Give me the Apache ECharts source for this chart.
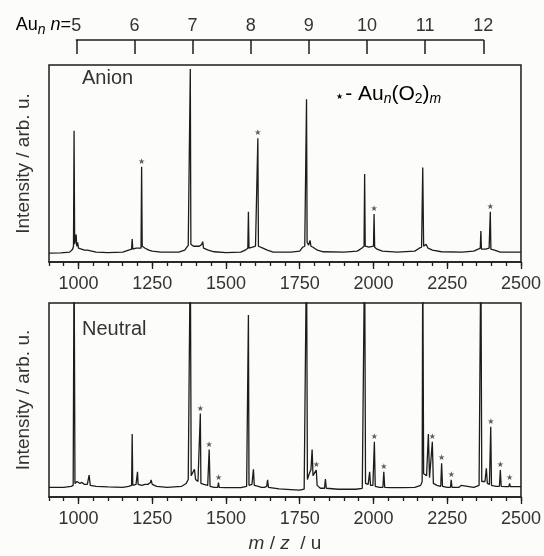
<!DOCTYPE html>
<html style="height:100%">
<head>
    <meta charset="utf-8">
    <title>Au_n mass spectra</title>
    <script src="https://cdn.jsdelivr.net/npm/echarts/dist/echarts.min.js"></script>
</head>
<body style="height:100%;margin:0;background:#fcfcfa">
    <div id="main" style="width:544px;height:556px;"></div>
    <script type="text/javascript">
        // m/z tick labels (bottom axes) and cluster sizes (top axis)
        var mzTicks = [1000, 1250, 1500, 1750, 2000, 2250, 2500];
        var clusterN = [5, 6, 7, 8, 9, 10, 11, 12];
        var clusterMz = [985, 1182, 1379, 1576, 1773, 1970, 2167, 2364];

        // anion spectrum trace [m/z, intensity]  (100 = top of frame)
        var anionTrace = [
            [900, 4.5], [940, 4.6], [970, 5.0], [980, 6.5], [983, 8], [985, 66.6], [987, 9], [990, 8], [992, 14], [994, 8],
            [997, 10], [1000, 7], [1005, 8], [1010, 6.5], [1020, 6], [1030, 6], [1045, 5.5], [1060, 5], [1100, 4.8],
            [1150, 5], [1170, 6], [1180, 6.5], [1182, 11.7], [1184, 6.5], [1195, 7], [1205, 7], [1210, 7.5], [1212, 7],
            [1214, 48.4], [1216, 8], [1222, 9], [1226, 7], [1232, 8], [1238, 6], [1250, 5.5], [1280, 5], [1340, 5],
            [1360, 6], [1372, 8.5], [1377, 9], [1379, 98], [1381, 9], [1390, 8], [1400, 8], [1410, 8], [1418, 9],
            [1421, 10.3], [1424, 7], [1440, 6], [1460, 5.2], [1500, 4.8], [1550, 5], [1565, 6], [1574, 7], [1576, 25.5],
            [1578, 7], [1590, 7.5], [1600, 8], [1606, 8.5], [1608, 62.8], [1610, 8], [1616, 8.5], [1625, 7], [1640, 6],
            [1660, 5], [1720, 5], [1750, 5.5], [1760, 7.5], [1767, 8], [1771, 9], [1773, 82.6], [1775, 10], [1780, 8.5],
            [1785, 11], [1788, 8], [1795, 7.5], [1810, 6], [1830, 5.2], [1900, 5], [1945, 5.5], [1960, 7], [1968, 8],
            [1970, 44.7], [1972, 8], [1985, 7.5], [2000, 8], [2002, 24.4], [2004, 7.5], [2012, 6.5], [2030, 5.5],
            [2080, 5], [2140, 5.5], [2155, 7], [2163, 7.5], [2167, 48], [2170, 8], [2178, 9], [2185, 7], [2200, 6],
            [2230, 5.2], [2300, 5], [2340, 5.5], [2355, 6.5], [2362, 7], [2364, 15.7], [2366, 6.5], [2380, 6.5],
            [2392, 7], [2396, 25.5], [2398, 6.5], [2410, 6], [2430, 5], [2470, 5], [2500, 5]
        ];
        // neutral spectrum trace (main cluster peaks run off the top)
        var neutralTrace = [
            [900, 5], [950, 5], [975, 5.5], [982, 6], [985, 130], [988, 7], [995, 8], [1000, 7.4], [1005, 7], [1012, 7.5],
            [1020, 6.5], [1030, 6.5], [1036, 11.3], [1040, 6], [1060, 5.5], [1100, 5.2], [1150, 5], [1170, 5.5],
            [1180, 6], [1182, 32.5], [1184, 6], [1195, 6.5], [1200, 13], [1202, 6.5], [1215, 6], [1225, 6.5],
            [1230, 7.4], [1235, 6.5], [1244, 7.5], [1246, 8.8], [1250, 6.5], [1265, 5.5], [1300, 5], [1350, 5.5],
            [1365, 7], [1372, 9], [1377, 10], [1379, 130], [1382, 11], [1388, 10], [1393, 14.3], [1397, 9], [1405, 8],
            [1411, 7.5], [1413, 43], [1415, 7], [1425, 6.5], [1438, 6], [1443, 24.5], [1446, 5.5], [1460, 5],
            [1472, 5], [1474.5, 7.4], [1477, 5], [1500, 4.8], [1550, 4.8], [1570, 5.5], [1574, 6], [1576, 93.8],
            [1578, 6], [1588, 6.5], [1593, 14.3], [1596, 6], [1610, 5.5], [1620, 5], [1630, 5], [1638, 5.5],
            [1641, 8.8], [1644, 5], [1680, 4.2], [1720, 3.8], [1750, 3.5], [1765, 4], [1771, 5], [1773, 130],
            [1776, 9], [1782, 12], [1788, 14], [1792, 24.5], [1795, 11], [1800, 10], [1806, 13.9], [1809, 6],
            [1820, 4.5], [1834, 4.5], [1837, 9.3], [1840, 4.5], [1880, 4], [1940, 4], [1962, 4.5], [1968, 5.5],
            [1970, 130], [1973, 7], [1982, 6.5], [1987, 13], [1990, 6], [1998, 6], [2003, 28.5], [2006, 5.5],
            [2020, 5], [2032, 5], [2035, 13], [2038, 5], [2060, 4.8], [2100, 4.8], [2140, 5], [2160, 6], [2165, 8],
            [2167, 130], [2170, 12], [2180, 11], [2186, 32.5], [2190, 10], [2196, 9], [2199.5, 28.5], [2203, 7],
            [2215, 6], [2228, 5.5], [2231, 17.4], [2234, 5.5], [2250, 5], [2261, 5], [2263.5, 8.8], [2266, 5],
            [2290, 5], [2297, 6], [2300, 5], [2340, 5], [2358, 6], [2362, 7], [2364, 130], [2367, 8], [2378, 8],
            [2382.6, 14.8], [2386, 7], [2393, 6.5], [2397.5, 36.2], [2400, 6], [2415, 5.5], [2427, 5.5], [2430, 13.9],
            [2433, 5.5], [2450, 5.3], [2459, 5.3], [2461.5, 7], [2464, 5.3], [2480, 5.3], [2500, 5.3]
        ];

        // starred Au_n(O2)_m peaks
        var anionStarMz = [1214, 1608, 2002, 2396];
        var anionStarInt = [48.4, 62.8, 24.4, 25.5];
        var neutralStarMz = [1413, 1443, 1474.5, 1806, 2003, 2035, 2199.5, 2231, 2263.5, 2397.5, 2430, 2461.5];
        var neutralStarInt = [43, 24.5, 7.4, 13.9, 28.5, 13, 28.5, 17.4, 8.8, 36.2, 13.9, 7];

        var myChart = echarts.init(document.getElementById('main'));

        var FONT = '"Liberation Sans", Arial, sans-serif';
        var INK = '#1c1c1c';

        function minorAxis(gridIndex, nameOpt) {
            var ax = {
                gridIndex: gridIndex,
                type: 'value',
                min: 900,
                max: 2500,
                interval: 50,
                position: 'bottom',
                axisLine: { show: true, onZero: false, lineStyle: { color: INK, width: 1.5 } },
                axisTick: { show: true, inside: false, length: 4, lineStyle: { color: INK, width: 1.3 } },
                axisLabel: {
                    show: true,
                    margin: 13,
                    color: '#333',
                    fontFamily: FONT,
                    fontSize: 18,
                    formatter: function (v) {
                        return mzTicks.indexOf(v) >= 0 ? String(v) : '';
                    }
                },
                splitLine: { show: false }
            };
            if (nameOpt) {
                for (var k in nameOpt) ax[k] = nameOpt[k];
            }
            return ax;
        }

        function majorAxis(gridIndex) {
            return {
                gridIndex: gridIndex,
                type: 'value',
                min: 900,
                max: 2500,
                position: 'bottom',
                axisLine: { show: false, onZero: false },
                axisTick: { show: true, inside: false, length: 7, customValues: mzTicks, lineStyle: { color: INK, width: 1.3 } },
                axisLabel: { show: false },
                splitLine: { show: false }
            };
        }

        function yAx(gridIndex) {
            return {
                gridIndex: gridIndex,
                type: 'value',
                min: 0,
                max: 100,
                axisLine: { show: false },
                axisTick: { show: false },
                axisLabel: { show: false },
                splitLine: { show: false },
                name: 'Intensity / arb. u.',
                nameLocation: 'middle',
                nameRotate: 90,
                nameGap: 16,
                nameTextStyle: { color: '#333', fontFamily: FONT, fontSize: 19 }
            };
        }

        function starSeries(xi, yi, mz, val) {
            return {
                type: 'scatter',
                xAxisIndex: xi,
                yAxisIndex: yi,
                symbolSize: 0,
                silent: true,
                label: {
                    show: true,
                    position: 'top',
                    distance: 1,
                    formatter: '\u2605',
                    fontFamily: '"DejaVu Sans", sans-serif',
                    fontSize: 8,
                    color: '#333'
                },
                data: mz.map(function (m, i) { return [m, val[i]]; })
            };
        }

        var subStyle = { fontFamily: FONT, fontSize: 14, fontStyle: 'italic', color: '#333', padding: [10, 0, 0, 0] };

        option = {
            backgroundColor: '#fcfcfa',
            animation: false,
            grid: [
                { left: 49, right: 20, top: 65, height: 197, show: true, borderColor: INK, borderWidth: 1.5, backgroundColor: 'transparent' },
                { left: 49, right: 20, top: 303, height: 194, show: true, borderColor: INK, borderWidth: 1.5, backgroundColor: 'transparent' },
                { left: 76.3, right: 60.7, top: 40, height: 15, show: false }
            ],
            xAxis: [
                minorAxis(0),
                majorAxis(0),
                minorAxis(1, {
                    name: '{i|m} / {i|z}  / u',
                    nameLocation: 'middle',
                    nameGap: 37,
                    nameTextStyle: {
                        color: '#333', fontFamily: FONT, fontSize: 19,
                        rich: { i: { fontStyle: 'italic', fontFamily: FONT, fontSize: 19, color: '#333' } }
                    }
                }),
                majorAxis(1),
                {
                    gridIndex: 2,
                    type: 'value',
                    min: clusterMz[0],
                    max: clusterMz[clusterMz.length - 1],
                    interval: 197,
                    position: 'top',
                    axisLine: { show: true, onZero: false, lineStyle: { color: INK, width: 1.5 } },
                    axisTick: { show: true, inside: true, length: 14, lineStyle: { color: INK, width: 1.5 } },
                    axisLabel: {
                        show: true,
                        margin: 5,
                        color: '#333',
                        fontFamily: FONT,
                        fontSize: 18,
                        formatter: function (v) {
                            var i = clusterMz.indexOf(v);
                            return i >= 0 ? String(clusterN[i]) : '';
                        }
                    },
                    splitLine: { show: false }
                }
            ],
            yAxis: [
                yAx(0),
                yAx(1),
                { gridIndex: 2, type: 'value', show: false, min: 0, max: 1 }
            ],
            graphic: [
                {
                    type: 'text', right: 544 - 71, top: 16,
                    style: {
                        text: '{t|Au}{s|n}{t| }{i|n}{t|=}',
                        rich: {
                            t: { fontFamily: FONT, fontSize: 18, color: '#333' },
                            i: { fontFamily: FONT, fontSize: 18, fontStyle: 'italic', color: '#333' },
                            s: subStyle
                        }
                    }
                },
                {
                    type: 'text', left: 82, top: 68,
                    style: { text: 'Anion', fontFamily: FONT, fontSize: 20, fill: '#333' }
                },
                {
                    type: 'text', left: 82, top: 319,
                    style: { text: 'Neutral', fontFamily: FONT, fontSize: 20, fill: '#333' }
                },
                {
                    type: 'text', left: 336, top: 84,
                    style: {
                        text: '{st|\u2605}{t|- Au}{s|n}{t|(O}{s2|2}{t|)}{s|m}',
                        rich: {
                            st: { fontFamily: '"DejaVu Sans", sans-serif', fontSize: 8, color: '#333', padding: [4, 2, 0, 0] },
                            t: { fontFamily: FONT, fontSize: 21, color: '#333' },
                            s: subStyle,
                            s2: { fontFamily: FONT, fontSize: 14, color: '#333', padding: [10, 0, 0, 0] }
                        }
                    }
                }
            ],
            series: [
                {
                    type: 'line',
                    xAxisIndex: 0,
                    yAxisIndex: 0,
                    showSymbol: false,
                    clip: true,
                    lineStyle: { color: INK, width: 1.3 },
                    data: anionTrace
                },
                {
                    type: 'line',
                    xAxisIndex: 2,
                    yAxisIndex: 1,
                    showSymbol: false,
                    clip: true,
                    lineStyle: { color: INK, width: 1.3 },
                    data: neutralTrace
                },
                starSeries(0, 0, anionStarMz, anionStarInt),
                starSeries(2, 1, neutralStarMz, neutralStarInt)
            ]
        };

        myChart.setOption(option);
    </script>
</body>
</html>
